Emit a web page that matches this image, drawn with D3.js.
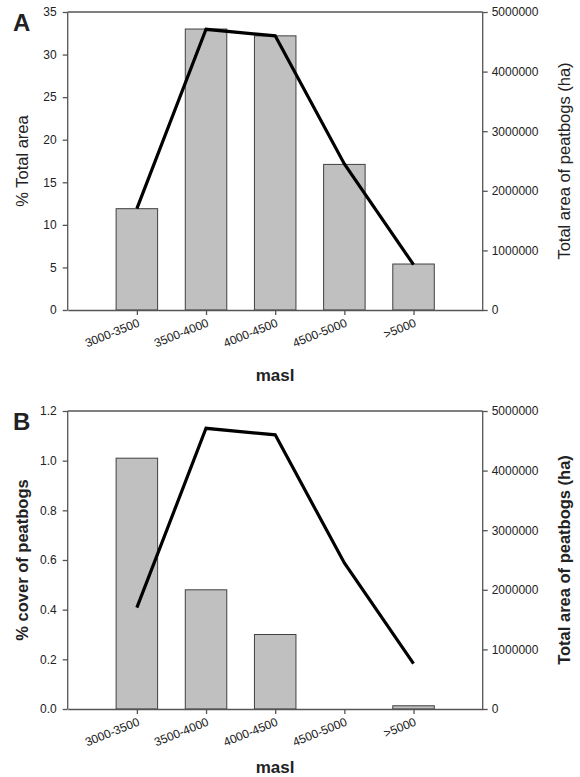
<!DOCTYPE html>
<html>
<head>
<meta charset="utf-8">
<script src="https://cdn.jsdelivr.net/npm/d3@7"></script>
<style>
  body { margin: 0; background: #fff; }
  svg text { font-family: Arial, "Liberation Sans", sans-serif; fill: #222; }
</style>
</head>
<body>
<svg width="580" height="777"></svg>
<script>
// altitude classes (masl)
const categories = ["3000-3500", "3500-4000", "4000-4500", "4500-5000", ">5000"];
// panel A: % of total area (bars)
const pctTotalArea = [11.9, 33.0, 32.2, 17.1, 5.4];
// panel B: % cover of peatbogs (bars)
const pctCover = [1.01, 0.48, 0.30, 0, 0.013];
// total area of peatbogs in ha (line, both panels)
const totalAreaHa = [1700000, 4710000, 4600000, 2450000, 760000];

const leftTicksA = [0, 5, 10, 15, 20, 25, 30, 35];
const leftTicksB = [0, 0.2, 0.4, 0.6, 0.8, 1.0, 1.2];
const rightTicks = [0, 1000000, 2000000, 3000000, 4000000, 5000000];

const svg = d3.select("svg");
const axisColor = "#555";

function drawPanel(opt) {
  const g = svg.append("g");
  const x = d3.scaleLinear().domain([0, categories.length + 1]).range([67.7, 482.7]);
  const yL = d3.scaleLinear().domain([0, opt.leftMax]).range([opt.bottom, opt.top]);
  const yR = d3.scaleLinear().domain([0, 5000000]).range([opt.bottom, opt.top]);
  const step = x(1) - x(0);
  const barW = step * 0.6;

  // bars
  g.selectAll("rect.bar")
    .data(opt.bars)
    .enter().append("rect")
    .attr("class", "bar")
    .attr("x", (d, i) => x(i + 1) - barW / 2)
    .attr("y", d => yL(d))
    .attr("width", barW)
    .attr("height", d => opt.bottom - yL(d))
    .attr("fill", d => d > 0 ? "#c0c0c0" : "none")
    .attr("stroke", d => d > 0 ? "#404040" : "none")
    .attr("stroke-width", 1);

  // frame top line
  g.append("line")
    .attr("x1", x(0)).attr("x2", x(categories.length + 1))
    .attr("y1", opt.top).attr("y2", opt.top)
    .attr("stroke", axisColor).attr("stroke-width", 1.3);

  // left axis
  const la = g.append("g")
    .attr("transform", "translate(" + x(0) + ",0)")
    .call(d3.axisLeft(yL).tickValues(opt.leftTicks).tickSize(5).tickPadding(6)
      .tickFormat(opt.leftFormat));
  // right axis
  const ra = g.append("g")
    .attr("transform", "translate(" + x(categories.length + 1) + ",0)")
    .call(d3.axisRight(yR).tickValues(rightTicks).tickSize(5).tickPadding(4)
      .tickFormat(d3.format("d")));
  // bottom axis
  const ba = g.append("g")
    .attr("transform", "translate(0," + opt.bottom + ")")
    .call(d3.axisBottom(x).tickValues(d3.range(1, categories.length + 1)).tickSize(5)
      .tickSizeOuter(0).tickFormat(d => categories[d - 1]));

  [la, ra, ba].forEach(a => {
    a.select(".domain").attr("stroke", axisColor).attr("stroke-width", 1.3);
    a.selectAll(".tick line").attr("stroke", axisColor).attr("stroke-width", 1.3);
    a.selectAll("text").style("font-size", "12px").attr("fill", "#222");
  });
  la.select(".domain").attr("d", "M0," + opt.bottom + "V" + opt.top);
  ra.select(".domain").attr("d", "M0," + opt.bottom + "V" + opt.top);

  ba.selectAll(".tick text")
    .attr("text-anchor", "end")
    .attr("dy", null)
    .attr("y", 0)
    .attr("transform", "translate(3,16) rotate(-22)");

  // line of total peatbog area
  const line = d3.line()
    .x((d, i) => x(i + 1))
    .y(d => yR(d));
  g.append("path")
    .datum(totalAreaHa)
    .attr("d", line)
    .attr("fill", "none")
    .attr("stroke", "#000")
    .attr("stroke-width", 3.2)
    .attr("stroke-linejoin", "miter");

  // panel letter
  g.append("text")
    .attr("x", 13).attr("y", opt.top + 19)
    .style("font-size", "24px").style("font-weight", "bold")
    .attr("fill", "#000")
    .text(opt.letter);

  const midY = (opt.top + opt.bottom) / 2;
  g.append("text")
    .attr("transform", "translate(28," + midY + ") rotate(-90)")
    .attr("text-anchor", "middle")
    .style("font-size", "16.5px").style("font-weight", opt.bold ? "bold" : "normal")
    .attr("fill", "#111")
    .text(opt.leftLabel);

  g.append("text")
    .attr("transform", "translate(570," + midY + ") rotate(-90)")
    .attr("text-anchor", "middle")
    .style("font-size", "16.5px").style("font-weight", opt.bold ? "bold" : "normal")
    .attr("fill", "#111")
    .text("Total area of peatbogs (ha)");

  g.append("text")
    .attr("x", 275).attr("y", opt.bottom + opt.maslOffset)
    .attr("text-anchor", "middle")
    .style("font-size", "17px").style("font-weight", "bold")
    .attr("fill", "#111")
    .text("masl");
}

drawPanel({
  letter: "A", top: 12, bottom: 310, leftMax: 35, leftTicks: leftTicksA,
  leftFormat: d3.format("d"), bars: pctTotalArea,
  leftLabel: "% Total area", bold: false, maslOffset: 71
});

drawPanel({
  letter: "B", top: 411, bottom: 709, leftMax: 1.2, leftTicks: leftTicksB,
  leftFormat: d3.format(".1f"), bars: pctCover,
  leftLabel: "% cover of peatbogs", bold: true, maslOffset: 64
});
</script>
</body>
</html>
